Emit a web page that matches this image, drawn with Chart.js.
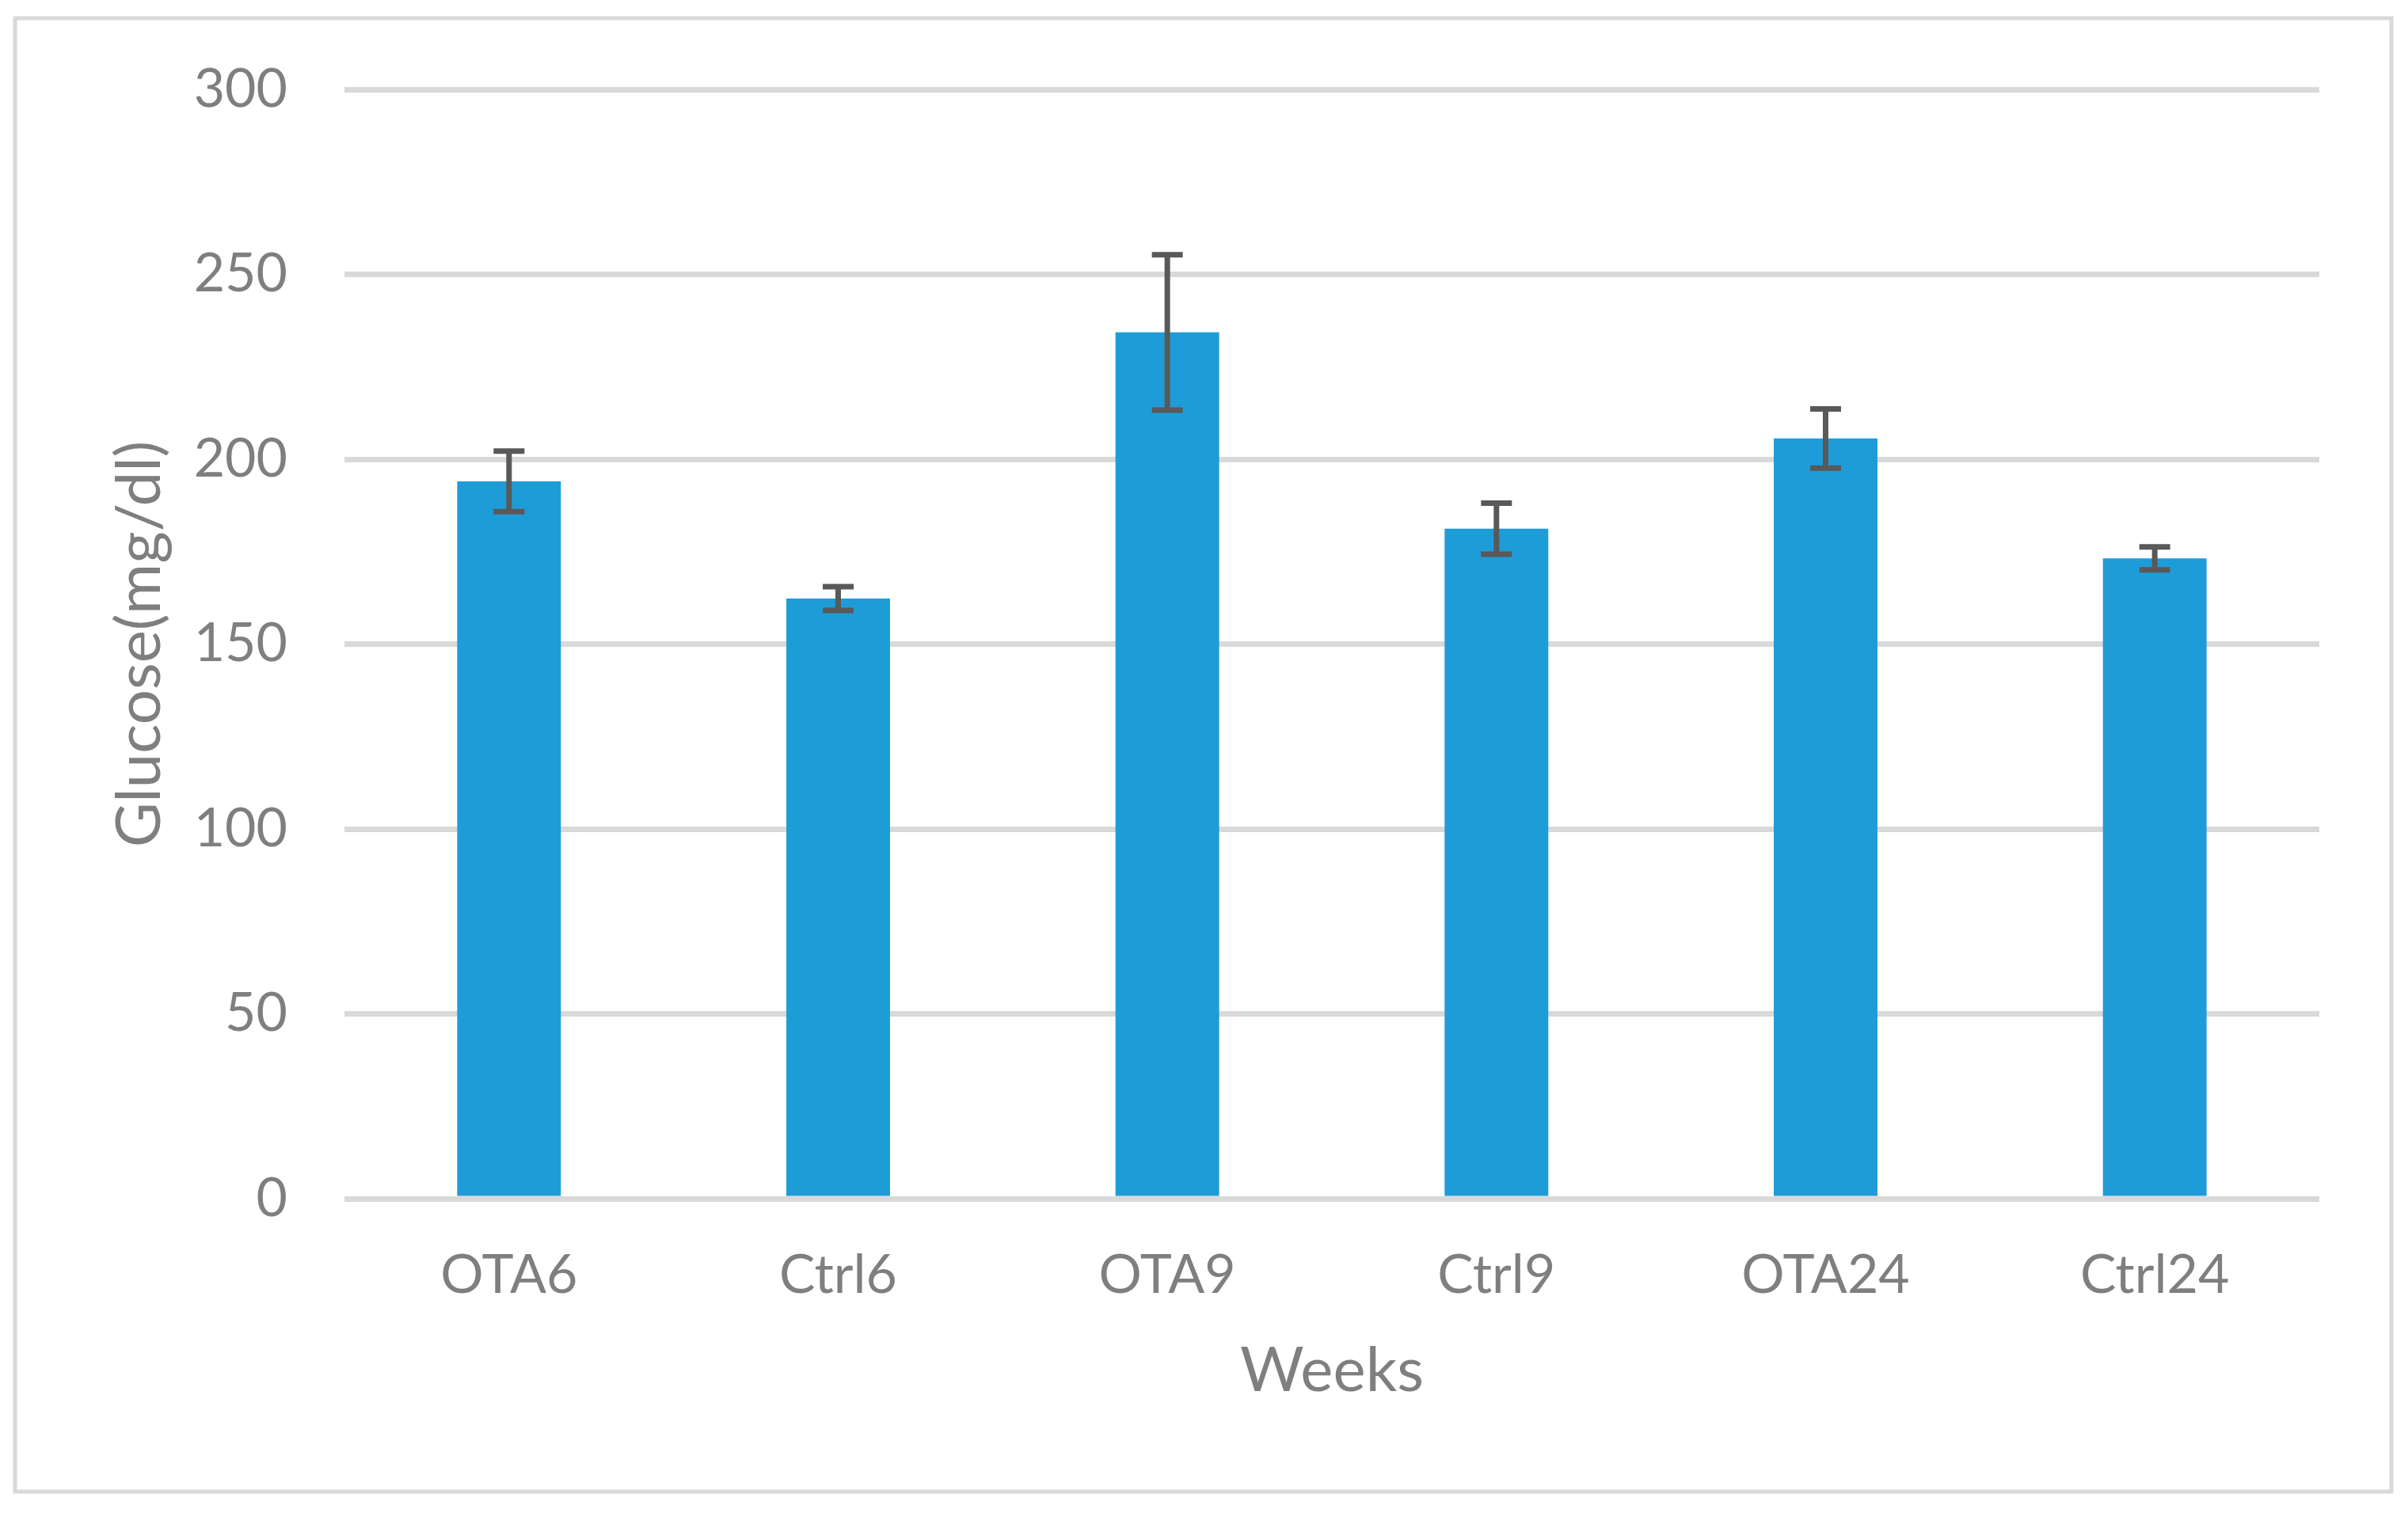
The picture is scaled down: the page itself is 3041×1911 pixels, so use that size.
<!DOCTYPE html>
<html>
<head>
<meta charset="utf-8">
<script src="https://cdn.jsdelivr.net/npm/chart.js@4.4.0/dist/chart.umd.min.js"></script>
<style>
  html, body { margin: 0; padding: 0; background: #fff; }
</style>
</head>
<body>
<canvas id="myChart" width="3041" height="1911"></canvas>
<script>
// values
const groups = ['OTA6', 'Ctrl6', 'OTA9', 'Ctrl9', 'OTA24', 'Ctrl24'];
const glucose = [194, 162.3, 234.3, 181.2, 205.6, 173.2];
const glucoseErr = [8.2, 3.2, 21, 6.9, 8, 3.1];
const yTicks = [0, 50, 100, 150, 200, 250, 300];

const textGray = '#7f7f7f';
const gridGray = '#d9d9d9';

// outer frame like the excel chart area border
const frame = {
    id: 'frame',
    beforeDraw(chart) {
        const ctx = chart.ctx;
        ctx.save();
        ctx.fillStyle = '#fff';
        ctx.fillRect(0, 0, chart.width, chart.height);
        ctx.strokeStyle = gridGray;
        ctx.lineWidth = 5;
        ctx.strokeRect(19, 23, 3001, 1861);
        ctx.restore();
    }
};

// +/- error bars on top of each bar
const errorBars = {
    id: 'errorBars',
    afterDatasetsDraw(chart) {
        const ctx = chart.ctx;
        const y = chart.scales.y;
        const meta = chart.getDatasetMeta(0);
        ctx.save();
        ctx.strokeStyle = '#595959';
        ctx.lineWidth = 7;
        ctx.lineCap = 'butt';
        meta.data.forEach(function (bar, i) {
            const top = y.getPixelForValue(glucose[i] + glucoseErr[i]);
            const bottom = y.getPixelForValue(glucose[i] - glucoseErr[i]);
            const x = bar.x;
            ctx.beginPath();
            ctx.moveTo(x, top);
            ctx.lineTo(x, bottom);
            ctx.moveTo(x - 19.5, top);
            ctx.lineTo(x + 19.5, top);
            ctx.moveTo(x - 19.5, bottom);
            ctx.lineTo(x + 19.5, bottom);
            ctx.stroke();
        });
        ctx.restore();
    }
};

Chart.defaults.font.family = 'Lato';
Chart.defaults.color = textGray;

let myChart = new Chart(document.getElementById('myChart'), {
    type: 'bar',
    data: {
        labels: groups,
        datasets: [{
            label: 'Glucose',
            data: glucose,
            backgroundColor: '#1e9cd8',
            borderWidth: 0,
            categoryPercentage: 1,
            barPercentage: 0.315
        }]
    },
    options: {
        responsive: false,
        devicePixelRatio: 1,
        animation: false,
        layout: {
            padding: { left: 100, top: 113, right: 112, bottom: 132 }
        },
        plugins: {
            legend: { display: false },
            tooltip: { enabled: false }
        },
        scales: {
            x: {
                afterFit: function (scale) {
                    scale.height = 265;
                },
                grid: { display: false, drawTicks: false },
                border: { display: false },
                ticks: {
                    padding: 56,
                    font: { size: 68 },
                    color: textGray
                },
                title: {
                    display: true,
                    text: 'Weeks',
                    color: textGray,
                    font: { size: 78 },
                    padding: { top: 32, bottom: 0 }
                }
            },
            y: {
                min: 0,
                max: 300,
                afterBuildTicks: function (scale) {
                    scale.ticks = yTicks.map(v => ({ value: v }));
                },
                afterFit: function (scale) {
                    scale.width = 335;
                },
                grid: { color: gridGray, lineWidth: 7, drawTicks: false },
                border: { display: false },
                ticks: {
                    padding: 72,
                    font: { size: 68 },
                    color: textGray
                },
                title: {
                    display: true,
                    text: 'Glucose(mg/dl)',
                    color: textGray,
                    font: { size: 78 },
                    padding: { top: 30, bottom: 0 }
                }
            }
        }
    },
    plugins: [frame, errorBars]
});
</script>
</body>
</html>
